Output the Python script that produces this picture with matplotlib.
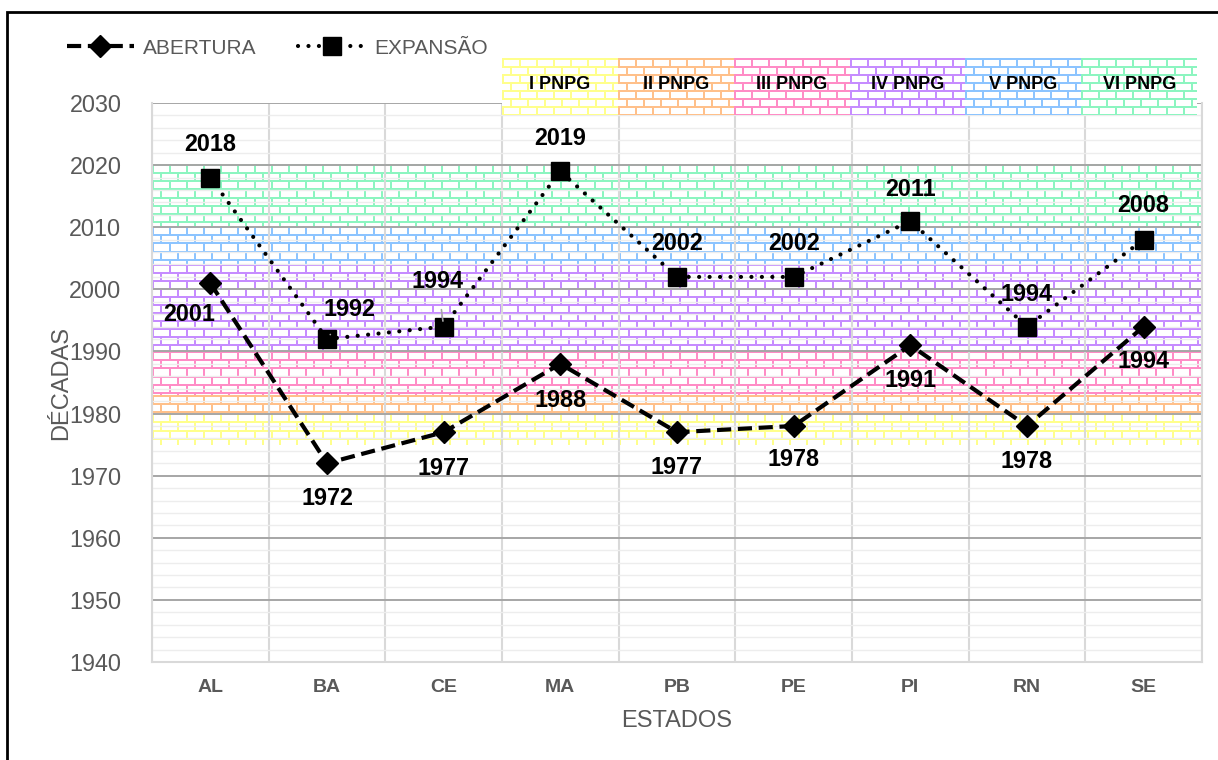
import numpy as np
import matplotlib
matplotlib.use('Agg')
import matplotlib.pyplot as plt
import matplotlib.colors as mcolors
from matplotlib.patches import Rectangle

plt.rcParams['font.family'] = ['Liberation Sans', 'DejaVu Sans']

# ---------------- data ----------------
estados = ['AL', 'BA', 'CE', 'MA', 'PB', 'PE', 'PI', 'RN', 'SE']
abertura = [2001, 1972, 1977, 1988, 1977, 1978, 1991, 1978, 1994]
expansao = [2018, 1992, 1994, 2019, 2002, 2002, 2011, 1994, 2008]

pnpg_labels = ['I PNPG', 'II PNPG', 'III PNPG', 'IV PNPG', 'V PNPG', 'VI PNPG']
pnpg_inicio = [1975, 1980, 1983, 1990, 2004, 2010]
pnpg_fim = [1980, 1983, 1990, 2004, 2010, 2020]
pnpg_cores = ['#ffff8c', '#ffc08a', '#ff8cc6', '#c68cff', '#8cc4ff', '#8cf5c0']

y_min, y_max = 1940, 2030

# label offsets (pixels) for the data labels
off_exp = [(0, 33), (22, 30), (-6, 45), (0, 33), (0, 33), (0, 33), (0, 32), (0, 32), (0, 34)]
off_abe = [(-21, -31), (0, -35), (0, -36), (0, -37), (0, -35), (0, -34), (0, -35), (0, -36), (0, -35)]

GRAY = '#595959'
W, H = 1218, 760
L, R, T, B = 152, 1202, 103, 662

fig = plt.figure(figsize=(W / 100, H / 100), dpi=100)
ax = fig.add_axes([L / W, 1 - B / H, (R - L) / W, (B - T) / H])


def bricks(h, w, color, bw=17, bh=8, lw=2):
    rgb = np.array(mcolors.to_rgb(color))
    img = np.ones((h, w, 3))
    yy, xx = np.mgrid[0:h, 0:w]
    row = yy // bh
    horiz = (yy % bh) < lw
    off = np.where(row % 2 == 0, 0, bw // 2)
    vert = ((xx - off) % bw) < lw
    img[horiz | vert] = rgb
    return img


ppy = (B - T) / (y_max - y_min)  # pixels per year
n = len(estados)
ppx = (R - L) / n

# horizontal bands inside the plot
for ini, fim, cor in zip(pnpg_inicio, pnpg_fim, pnpg_cores):
    h = int(round((fim - ini) * ppy))
    img = bricks(h, R - L, cor)
    ax.imshow(img, extent=(-0.5, n - 0.5, ini, fim), aspect='auto',
              interpolation='nearest', zorder=0.1)

# header boxes above the plot
box_w = 0.993
box_y0, box_y1 = 2028.1, 2037.2
for i, (lab, cor) in enumerate(zip(pnpg_labels, pnpg_cores)):
    x0 = 2.5 + i * box_w
    img = bricks(int(round((box_y1 - box_y0) * ppy)), int(round(box_w * ppx)), cor)
    im = ax.imshow(img, extent=(x0, x0 + box_w, box_y0, box_y1), aspect='auto',
                   interpolation='nearest', zorder=2)
    im.set_clip_on(False)
    ax.text(x0 + box_w / 2, (box_y0 + box_y1) / 2 + 0.3, lab, ha='center', va='center',
            fontsize=13, fontweight='bold', color='black', zorder=3, clip_on=False)

ax.set_xlim(-0.5, n - 0.5)
ax.set_ylim(y_min, y_max)

x = np.arange(n)
ax.plot(x, abertura, color='black', lw=3, ls=(0, (3.4, 1.6)), marker='D', ms=11,
        zorder=4, label='ABERTURA')
ax.plot(x, expansao, color='black', lw=3, ls=(0, (0.01, 2.5)), dash_capstyle='round',
        marker='s', ms=13, zorder=4, label='EXPANSÃO')

for i, v in enumerate(expansao):
    dx, dy = off_exp[i]
    kw = {}
    if abs(dx) > 4:
        kw = dict(arrowprops=dict(arrowstyle='-', color='#a6a6a6', lw=1.2,
                                  shrinkA=10, shrinkB=4))
    ax.annotate(str(v), (i, v), xytext=(dx, dy), textcoords='offset pixels',
                ha='center', va='center', fontsize=16.8, fontweight='bold', zorder=5, **kw)
for i, v in enumerate(abertura):
    dx, dy = off_abe[i]
    ax.annotate(str(v), (i, v), xytext=(dx, dy), textcoords='offset pixels',
                ha='center', va='center', fontsize=16.8, fontweight='bold', zorder=5)

# grid / ticks
ax.set_yticks(np.arange(y_min, y_max + 1, 10))
ax.set_yticks(np.arange(y_min, y_max + 1, 2), minor=True)
ax.set_xticks(x)
ax.set_xticks(np.arange(-0.5, n, 1), minor=True)
ax.set_xticklabels(estados, fontsize=14, fontweight='bold', color=GRAY)
ax.tick_params(axis='y', which='major', length=0, pad=22, labelsize=16.8, labelcolor=GRAY)
ax.tick_params(axis='x', which='major', length=0, pad=12)
ax.tick_params(which='minor', length=0)
ax.set_axisbelow(True)
ax.grid(which='minor', axis='y', color='#ededed', lw=1)
ax.grid(which='major', axis='y', color='#a6a6a6', lw=1.4)
ax.grid(which='minor', axis='x', color='#d9d9d9', lw=1.5)
ax.grid(which='major', axis='x', visible=False)
for s in ['left', 'right', 'bottom']:
    ax.spines[s].set_color('#d9d9d9')
    ax.spines[s].set_linewidth(1.5)
ax.spines['top'].set_visible(False)

ax.set_xlabel('ESTADOS', fontsize=17, color=GRAY)
ax.xaxis.set_label_coords(0.5, -0.085)
ax.set_ylabel('DÉCADAS', fontsize=17, color=GRAY)
ax.yaxis.set_label_coords(-0.076, 0.5)

handles, labels = ax.get_legend_handles_labels()
fig.legend(handles, labels, loc='center left', bbox_to_anchor=(67 / W, 1 - 48 / H),
           ncol=2, frameon=False, fontsize=15, handlelength=3.2, handletextpad=0.45,
           columnspacing=2.0, labelcolor=GRAY, borderpad=0, borderaxespad=0)

fig.add_artist(Rectangle((7 / W, -0.05), 1.2, 1 - 12 / H + 0.05, transform=fig.transFigure,
                         fill=False, ec='black', lw=2))

fig.savefig('out.png', dpi=100)
